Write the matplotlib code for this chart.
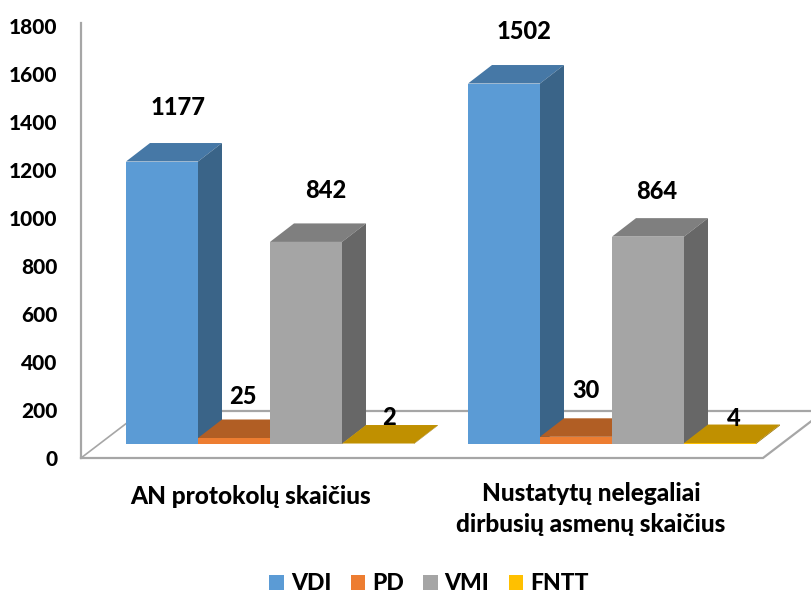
import matplotlib
matplotlib.use('Agg')
import matplotlib.pyplot as plt
from matplotlib.patches import Polygon, Patch

plt.rcParams['font.family'] = ['Lato', 'DejaVu Sans']
plt.rcParams['font.weight'] = 900

categories = ['AN protokolų skaičius', 'Nustatytų nelegaliai\ndirbusių asmenų skaičius']
series = ['VDI', 'PD', 'VMI', 'FNTT']
vdi = [1177, 1502]
pd_vals = [25, 30]
vmi = [842, 864]
fntt = [2, 4]
yticks = [0, 200, 400, 600, 800, 1000, 1200, 1400, 1600, 1800]

# front, top and side colour for each series
front = ['#5B9BD5', '#ED7D31', '#A5A5A5', '#FFC000']
top = ['#4678A6', '#B15E24', '#7F7F7F', '#C09000']
side = ['#3A6488', '#8F4C1D', '#676767', '#9B7400']

W, H = 812, 595
PX_Y = 432 / 1800     # pixels per value unit
PX_X = 72             # pixels per bar width

group_start = [0, 342 / PX_X]
base = 14 / PX_Y      # bars stand this far above the front of the floor
dx = 24 / PX_X        # depth of a bar
dy = 18.5 / PX_Y

# pixel offsets of the value labels from the bar's top centre
label_off = [[(16, 54), (9, 41), (20, 51), (11, 26)],
             [(20, 52), (10, 46), (9, 45), (14, 25)]]

fig = plt.figure(figsize=(W / 100, H / 100), dpi=100)
ax = fig.add_axes([81 / W, (H - 458) / H, (W - 81) / W, 432 / H])
ax.set_xlim(-45 / PX_X, (W - 126) / PX_X)
ax.set_ylim(0, 1800)
for s in ['top', 'right', 'bottom']:
    ax.spines[s].set_visible(False)
ax.spines['left'].set_color('#A6A6A6')
ax.spines['left'].set_linewidth(1.6)
ax.spines['left'].set_bounds(0, 1812)
ax.spines['left'].set_clip_on(False)
ax.set_yticks(yticks)
ax.tick_params(axis='y', length=0, pad=17, labelsize=15)
ax.set_xticks([])

# floor and back wall line
x0 = -45 / PX_X
x1 = (763 - 126) / PX_X
floor_dx = 61 / PX_X
floor_dy = 194
ax.plot([x0, x1, x1 + floor_dx], [0, 0, floor_dy], color='#A6A6A6', lw=1.6, clip_on=False,
        solid_joinstyle='miter')
ax.plot([x0, x0 + floor_dx], [0, floor_dy], color='#A6A6A6', lw=1.2, clip_on=False)
ax.plot([x0 + floor_dx, (W - 126) / PX_X], [floor_dy, floor_dy], color='#A6A6A6', lw=1.6, clip_on=False)

values = [vdi, pd_vals, vmi, fntt]
for g, start in enumerate(group_start):
    for i in range(len(series)):
        v = values[i][g]
        x = start + i
        b = base
        t = base + v
        ax.add_patch(Polygon([(x, b), (x + 1, b), (x + 1, t), (x, t)], fc=front[i], ec='none', zorder=3))
        ax.add_patch(Polygon([(x, t), (x + dx, t + dy), (x + 1 + dx, t + dy), (x + 1, t)],
                             fc=top[i], ec='none', zorder=3))
        ax.add_patch(Polygon([(x + 1, b), (x + 1 + dx, b + dy), (x + 1 + dx, t + dy), (x + 1, t)],
                             fc=side[i], ec='none', zorder=3))
        ax.annotate(str(v), (x + 0.5, t), xytext=label_off[g][i], textcoords='offset pixels',
                    ha='center', va='center', fontsize=17, color='black',
                    zorder=5, annotation_clip=False)

# category labels
ax.text((251 - 126) / PX_X, -38 / PX_Y, categories[0], ha='center', va='center', fontsize=17.6)
ax.text((591 - 126) / PX_X, -51 / PX_Y, categories[1], ha='center', va='center',
        fontsize=17.6, linespacing=1.4)

handles = [Patch(fc=c, ec='none') for c in front]
fig.legend(handles, series, loc='center', bbox_to_anchor=(429 / W, (H - 584) / H), ncol=4,
           frameon=False, fontsize=16.5, handlelength=0.63, handleheight=0.63,
           handletextpad=0.3, columnspacing=0.85, borderpad=0)

fig.savefig('out.png', dpi=100)
